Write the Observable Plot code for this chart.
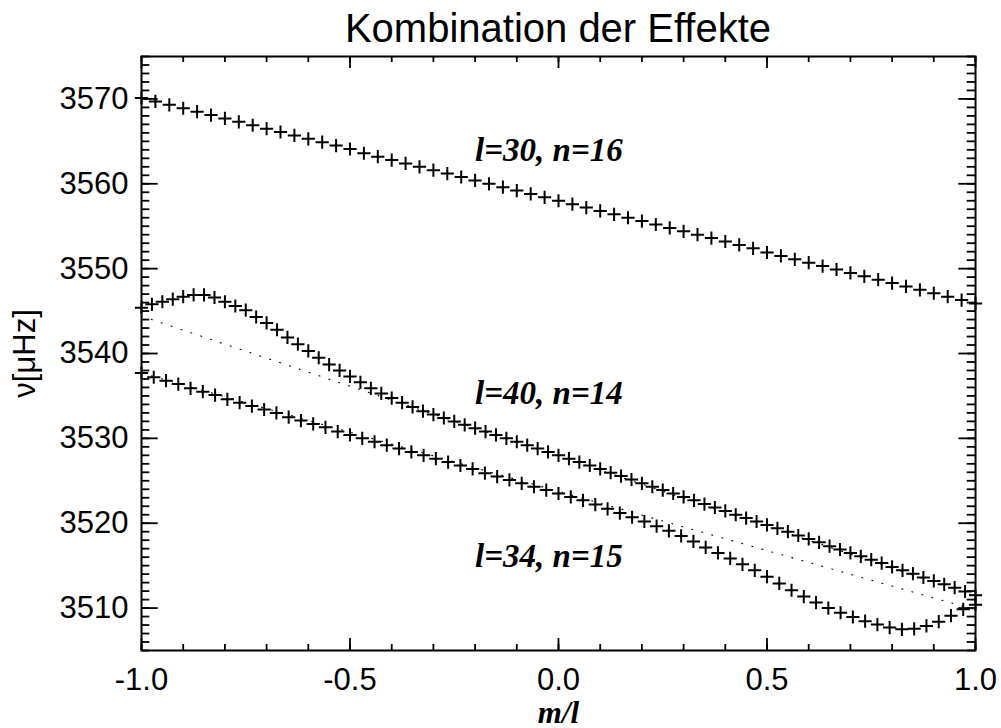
<!DOCTYPE html>
<html>
<head>
<meta charset="utf-8">
<script src="https://cdn.jsdelivr.net/npm/d3@7"></script>
<script src="https://cdn.jsdelivr.net/npm/@observablehq/plot@0.6"></script>
<style>
  html, body { margin: 0; padding: 0; background: white; }
  #title { position: relative; height: 50px; width: 1001px; }
  #title span {
    position: absolute; left: 558px; top: 8px; transform: translateX(-50%);
    font: 40px/40px "Liberation Sans", Arial, sans-serif; white-space: nowrap; color: black;
  }
</style>
</head>
<body>
<div id="title"><span>Kombination der Effekte</span></div>
<div id="chart"></div>
<script>
// Frequencies ν (μHz) of the split multiplets, one value per m = -l … l
const l30n16 = [
  3570.1, 3569.7, 3569.3, 3568.9, 3568.5, 3568.1, 3567.7, 3567.3, 3566.9, 3566.5,
  3566.1, 3565.7, 3565.3, 3564.9, 3564.5, 3564.1, 3563.6, 3563.2, 3562.8, 3562.4,
  3562.0, 3561.6, 3561.2, 3560.8, 3560.4, 3560.0, 3559.6, 3559.2, 3558.8, 3558.4,
  3558.0, 3557.6, 3557.2, 3556.8, 3556.4, 3556.0, 3555.6, 3555.2, 3554.8, 3554.4,
  3554.0, 3553.6, 3553.2, 3552.8, 3552.4, 3551.9, 3551.5, 3551.1, 3550.7, 3550.3,
  3549.9, 3549.5, 3549.1, 3548.7, 3548.3, 3547.9, 3547.5, 3547.1, 3546.7, 3546.3,
  3545.9
];
const l40n14 = [
  3545.4, 3545.8, 3546.1, 3546.4, 3546.7, 3546.9, 3546.9, 3546.6, 3546.1, 3545.6,
  3545.1, 3544.3, 3543.6, 3542.8, 3541.9, 3541.1, 3540.3, 3539.5, 3538.7, 3538.0,
  3537.3, 3536.6, 3535.9, 3535.3, 3534.75, 3534.2, 3533.7, 3533.2, 3532.8, 3532.4,
  3532.0, 3531.6, 3531.2, 3530.8, 3530.4, 3530.0, 3529.6, 3529.2, 3528.8, 3528.4,
  3528.0, 3527.6, 3527.2, 3526.8, 3526.4, 3525.95, 3525.55, 3525.15, 3524.7, 3524.3,
  3523.9, 3523.5, 3523.1, 3522.7, 3522.25, 3521.85, 3521.45, 3521.0, 3520.6, 3520.2,
  3519.8, 3519.4, 3519.0, 3518.55, 3518.15, 3517.75, 3517.3, 3516.9, 3516.5, 3516.1,
  3515.7, 3515.3, 3514.85, 3514.45, 3514.05, 3513.6, 3513.2, 3512.8, 3512.4, 3511.95,
  3511.5
];
const l34n15 = [
  3537.7, 3537.2, 3536.8, 3536.4, 3535.9, 3535.5, 3535.1, 3534.6, 3534.2, 3533.8,
  3533.4, 3533.0, 3532.5, 3532.1, 3531.7, 3531.3, 3530.8, 3530.4, 3530.0, 3529.6,
  3529.2, 3528.8, 3528.4, 3528.0, 3527.6, 3527.2, 3526.8, 3526.4, 3525.9, 3525.5,
  3525.1, 3524.7, 3524.3, 3523.9, 3523.5, 3523.1, 3522.7, 3522.2, 3521.7, 3521.2,
  3520.7, 3520.2, 3519.65, 3519.1, 3518.5, 3517.85, 3517.15, 3516.5, 3515.85, 3515.15,
  3514.45, 3513.7, 3512.9, 3512.1, 3511.35, 3510.65, 3510.0, 3509.45, 3508.95, 3508.45,
  3508.05, 3507.7, 3507.5, 3507.55, 3507.9, 3508.4, 3509.1, 3509.85, 3510.4
];

// Uncoupled (linear) frequencies at m/l = -1 and m/l = +1
const linearEnds = [-1, 1];
const linearL40 = [3544.4, 3511.4];
const linearL34 = [3537.7, 3509.8];

// Mode labels and where they sit (m/l, ν at baseline)
const modeLabels = ["l=30, n=16", "l=40, n=14", "l=34, n=15"];
const modeLabelX = [-0.2, -0.2, -0.2];
const modeLabelY = [3562.7, 3534.0, 3514.8];

// Axis ticks
const xMajor = [-1, -0.5, 0, 0.5, 1];
const xMinor = d3.range(-10, 11).map(i => i / 10);
const yMajor = [3510, 3520, 3530, 3540, 3550, 3560, 3570];
const yMinor = d3.range(3505, 3576);

const rows = [
  ...l30n16.map((v, i) => ({mode: "l30", x: (i - 30) / 30, v})),
  ...l40n14.map((v, i) => ({mode: "l40", x: (i - 40) / 40, v})),
  ...l34n15.map((v, i) => ({mode: "l34", x: (i - 34) / 34, v}))
];
const linearRows = [
  ...linearEnds.map((x, i) => ({mode: "l40", x, v: linearL40[i]})),
  ...linearEnds.map((x, i) => ({mode: "l34", x, v: linearL34[i]}))
];
const labelRows = modeLabels.map((text, i) => ({text, x: modeLabelX[i], v: modeLabelY[i]}));

// Thin "+" marker
const plusSymbol = {
  draw(context, size) {
    const h = Math.sqrt(size / Math.PI);
    context.moveTo(-h, 0); context.lineTo(h, 0);
    context.moveTo(0, -h); context.lineTo(0, h);
  }
};

const width = 1001, height = 678;
const mTop = 6, mRight = 26, mBottom = 78, mLeft = 141;
const innerW = width - mLeft - mRight;
const innerH = height - mTop - mBottom;
const sans = "'Liberation Sans', Arial, sans-serif";
const serif = "'Liberation Serif', 'Times New Roman', serif";

const chart = Plot.plot({
  width, height,
  marginTop: mTop, marginRight: mRight, marginBottom: mBottom, marginLeft: mLeft,
  x: {domain: [-1, 1]},
  y: {domain: [3505, 3575]},
  style: {background: "white", fontFamily: sans, color: "black"},
  marks: [
    // inward ticks on all four sides
    Plot.tickX(xMinor, {insetTop: innerH - 6, stroke: "black", strokeWidth: 1.8}),
    Plot.tickX(xMajor, {insetTop: innerH - 12, stroke: "black", strokeWidth: 1.8}),
    Plot.tickX(xMinor, {insetBottom: innerH - 6, stroke: "black", strokeWidth: 1.8}),
    Plot.tickX(xMajor, {insetBottom: innerH - 12, stroke: "black", strokeWidth: 1.8}),
    Plot.tickY(yMinor, {insetRight: innerW - 8.3, stroke: "black", strokeWidth: 1.8}),
    Plot.tickY(yMajor, {insetRight: innerW - 16.7, stroke: "black", strokeWidth: 1.8}),
    Plot.tickY(yMinor, {insetLeft: innerW - 8.3, stroke: "black", strokeWidth: 1.8}),
    Plot.tickY(yMajor, {insetLeft: innerW - 16.7, stroke: "black", strokeWidth: 1.8}),
    Plot.axisX({ticks: xMajor, tickSize: 0, tickPadding: 17, tickFormat: d => d.toFixed(1),
                fontSize: 31, fontFamily: sans, label: null}),
    Plot.axisY({ticks: yMajor, tickSize: 0, tickPadding: 13, tickFormat: d => String(d),
                fontSize: 31, fontFamily: sans, label: null}),
    Plot.frame({stroke: "black", strokeWidth: 2}),
    // uncoupled frequencies, dotted
    Plot.line(linearRows, {x: "x", y: "v", z: "mode", stroke: "black", strokeWidth: 1.1,
                           strokeDasharray: "1,9.4"}),
    // computed frequencies
    Plot.dot(rows, {x: "x", y: "v", symbol: plusSymbol, r: 6.6, stroke: "black",
                    strokeWidth: 2, fill: "none"}),
    Plot.text(labelRows, {x: "x", y: "v", text: "text", textAnchor: "start", lineAnchor: "bottom",
                          fontFamily: serif, fontStyle: "italic", fontWeight: "bold", fontSize: 33,
                          fill: "black"}),
    // axis titles
    Plot.text(["ν[μHz]"], {frameAnchor: "left", dx: -116, rotate: -90, text: d => d,
                          textAnchor: "middle", lineAnchor: "middle",
                          fontSize: 31, fontFamily: sans, fill: "black"}),
    Plot.text(["m/l"], {frameAnchor: "bottom", dy: 72, lineAnchor: "bottom", textAnchor: "middle",
                       text: d => d, fontFamily: serif, fontStyle: "italic", fontWeight: "bold",
                       fontSize: 31, fill: "black"})
  ]
});
document.getElementById("chart").appendChild(chart);
</script>
</body>
</html>
